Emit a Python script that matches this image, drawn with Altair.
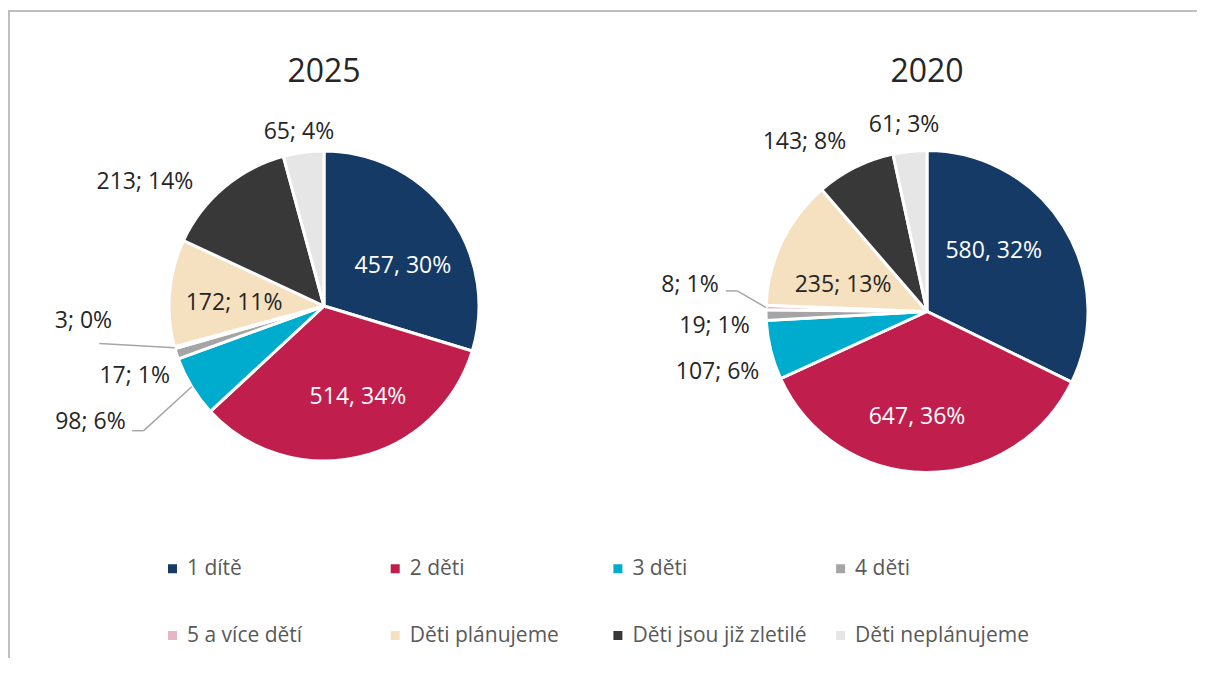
import altair as alt
import pandas as pd

# ---------------- data ----------------
CATEGORIES = ["1 dítě", "2 děti", "3 děti", "4 děti", "5 a více dětí",
              "Děti plánujeme", "Děti jsou již zletilé", "Děti neplánujeme"]
YEARS = ["2025", "2020"]
VALUES_2025 = [457, 514, 98, 17, 3, 172, 213, 65]
VALUES_2020 = [580, 647, 107, 19, 8, 235, 143, 61]
LABELS_2025 = ["457, 30%", "514, 34%", "98; 6%", "17; 1%", "3; 0%",
               "172; 11%", "213; 14%", "65; 4%"]
LABELS_2020 = ["580, 32%", "647, 36%", "107; 6%", "19; 1%", "8; 1%",
               "235; 13%", "143; 8%", "61; 3%"]

# ---------------- styles / layout ----------------
COLORS = ["#153A66", "#C01E4D", "#00ACCE", "#A5A5A5", "#E4B6C6",
          "#F5E0C0", "#383838", "#E6E6E6"]
FONT = "Open Sans"
W, H = 1189, 650
PIE = {"2025": dict(cx=316, cy=298, r=155), "2020": dict(cx=919, cy=303.5, r=161)}
TITLE_Y = 74
# label placement: (angle shift from slice middle [deg], distance from centre [px], tone)
LABEL_LAYOUT = {
    "2025": [(9.6, 88.5, "light"), (-7.5, 97, "light"), (4.9, 261, "dark"),
             (-2.45, 202, "dark"), (12.1, 241, "dark"), (-2.65, 90, "dark"),
             (-15.1, 218, "dark"), (-0.6, 176, "dark")],
    "2020": [(-10.1, 90, "light"), (4.7, 106, "light"), (-2.2, 218, "dark"),
             (-2.6, 213, "dark"), (5.0, 238.5, "dark"), (-8.2, 88, "dark"),
             (-9.4, 209, "dark"), (-0.9, 188, "dark")],
}
# leader lines: elbow and end offsets relative to the label centre
LEADERS = {
    ("2025", "3 děti"): ((53.3, 8.2), (41.7, 8.2)),
    ("2025", "5 a více dětí"): ((15.8, 22.8), (15.8, 22.8)),
    ("2020", "5 a více dětí"): ((47.3, 6.0), (36.0, 6.0)),
}

values = {"2025": VALUES_2025, "2020": VALUES_2020}
labels = {"2025": LABELS_2025, "2020": LABELS_2020}

rows = []
for y in YEARS:
    for i, cat in enumerate(CATEGORIES):
        dth, dist, tone = LABEL_LAYOUT[y][i]
        lead = LEADERS.get((y, cat))
        rows.append(dict(
            year=y, category=cat, order=i, value=values[y][i], label=labels[y][i],
            cx=PIE[y]["cx"], cy=PIE[y]["cy"], r=PIE[y]["r"],
            dth=dth, dist=dist, tone=tone,
            lead=1 if lead else 0,
            o1x=lead[0][0] if lead else 0, o1y=lead[0][1] if lead else 0,
            o2x=lead[1][0] if lead else 0, o2y=lead[1][1] if lead else 0,
        ))
df = pd.DataFrame(rows)

base = (
    alt.Chart(df)
    .transform_joinaggregate(total="sum(value)", groupby=["year"])
    .transform_window(cum="sum(value)", sort=[alt.SortField("order")],
                      groupby=["year"], frame=[None, 0])
    .transform_calculate(a0="2*PI*(datum.cum - datum.value)/datum.total")
    .transform_calculate(a1="2*PI*datum.cum/datum.total")
    .transform_calculate(am="(datum.a0 + datum.a1)/2")
    .transform_calculate(la="datum.am + datum.dth*PI/180")
    .transform_calculate(lx="datum.cx + datum.dist*sin(datum.la)")
    .transform_calculate(ly="datum.cy - datum.dist*cos(datum.la)")
    .transform_calculate(ex="datum.cx + datum.r*sin(datum.am)")
    .transform_calculate(ey="datum.cy - datum.r*cos(datum.am)")
)

legend = alt.Legend(
    orient="none", legendX=154, legendY=550, columns=4, gridAlign="all",
    direction="horizontal",
    symbolType="square", symbolSize=81, symbolStrokeWidth=0,
    labelFont=FONT, labelFontSize=21, labelColor="#595959", labelLimit=400,
    labelOffset=4, columnPadding=22.7, rowPadding=45, title=None,
)

arcs = base.mark_arc(stroke="white", strokeWidth=3).encode(
    x=alt.X("cx:Q", scale=None),
    y=alt.Y("cy:Q", scale=None),
    theta=alt.Theta("a0:Q", scale=None, stack=False),
    theta2=alt.Theta2("a1:Q"),
    radius=alt.Radius("r:Q", scale=None),
    color=alt.Color("category:N", scale=alt.Scale(domain=CATEGORIES, range=COLORS),
                    legend=legend),
)

lead_base = (
    base.transform_filter("datum.lead == 1")
    .transform_calculate(p1x="datum.lx + datum.o1x")
    .transform_calculate(p1y="datum.ly + datum.o1y")
    .transform_calculate(p2x="datum.lx + datum.o2x")
    .transform_calculate(p2y="datum.ly + datum.o2y")
)
seg1 = lead_base.mark_rule(color="#A6A6A6", strokeWidth=1.5).encode(
    x=alt.X("ex:Q", scale=None), y=alt.Y("ey:Q", scale=None),
    x2=alt.X2("p1x:Q"), y2=alt.Y2("p1y:Q"),
)
seg2 = lead_base.mark_rule(color="#A6A6A6", strokeWidth=1.5).encode(
    x=alt.X("p1x:Q", scale=None), y=alt.Y("p1y:Q", scale=None),
    x2=alt.X2("p2x:Q"), y2=alt.Y2("p2y:Q"),
)

txt_light = base.transform_filter("datum.tone == 'light'").mark_text(
    font=FONT, fontSize=23, color="white").encode(
    x=alt.X("lx:Q", scale=None), y=alt.Y("ly:Q", scale=None), text="label:N")
txt_dark = base.transform_filter("datum.tone == 'dark'").mark_text(
    font=FONT, fontSize=23, color="#262626").encode(
    x=alt.X("lx:Q", scale=None), y=alt.Y("ly:Q", scale=None), text="label:N")

titles_df = pd.DataFrame({"year": YEARS, "cx": [PIE[y]["cx"] for y in YEARS]})
titles = alt.Chart(titles_df).mark_text(
    font=FONT, fontSize=32, color="#262626", baseline="alphabetic").encode(
    x=alt.X("cx:Q", scale=None), y=alt.value(TITLE_Y), text="year:N")

frame_df = pd.DataFrame({"k": [0]})
border_top = alt.Chart(frame_df).mark_rule(color="#BFBFBF", strokeWidth=2).encode(
    x=alt.value(0), x2=alt.value(W), y=alt.value(3))
border_left = alt.Chart(frame_df).mark_rule(color="#BFBFBF", strokeWidth=2).encode(
    x=alt.value(1), y=alt.value(2), y2=alt.value(H))

chart = (
    alt.layer(border_top, border_left, arcs, seg1, seg2, txt_light, txt_dark, titles)
    .properties(width=W, height=H, padding=0,
                autosize=alt.AutoSizeParams(type="none"), background="white")
    .configure_view(stroke=None)
)

chart.save("out.html", embed_options={"renderer": "svg", "actions": False})
